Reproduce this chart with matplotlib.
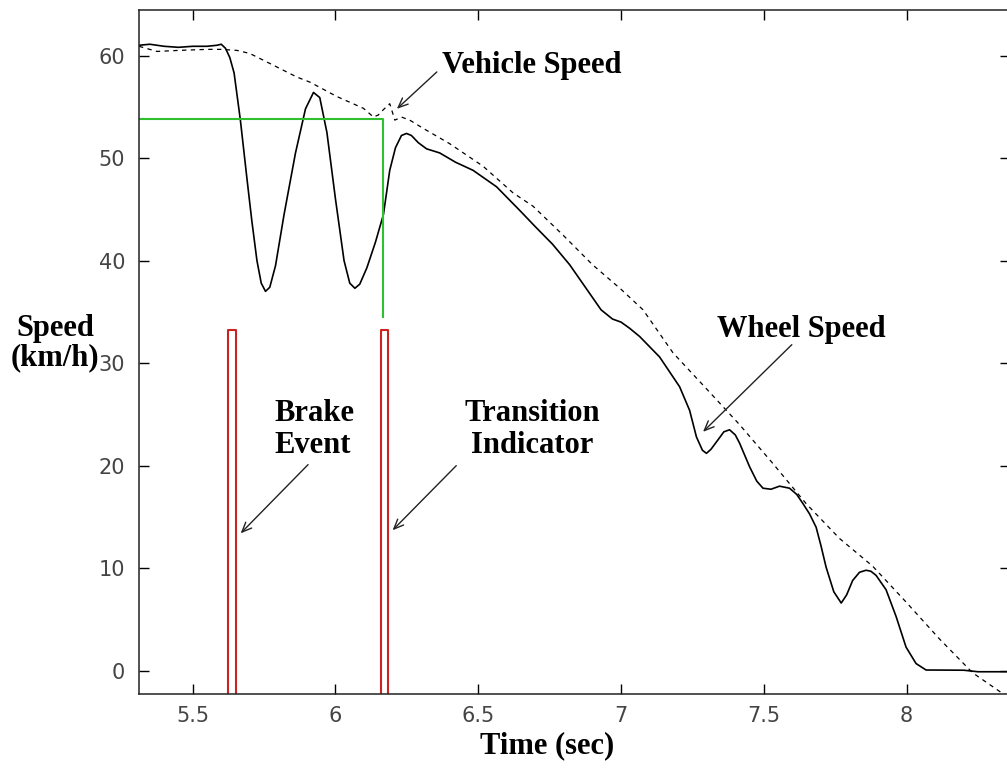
import matplotlib
matplotlib.use("Agg")
import matplotlib.pyplot as plt

# wheel speed (solid), km/h
wheel_t = [5.312, 5.35, 5.40, 5.45, 5.50, 5.55, 5.585, 5.60, 5.615, 5.63, 5.645, 5.667,
           5.69, 5.707, 5.725, 5.74, 5.755, 5.77, 5.79, 5.82, 5.86, 5.895, 5.923, 5.945,
           5.97, 6.00, 6.03, 6.05, 6.068, 6.085, 6.11, 6.14, 6.168, 6.19, 6.21, 6.231,
           6.249, 6.266, 6.29, 6.319, 6.365, 6.42, 6.482, 6.564, 6.645, 6.70, 6.76, 6.82,
           6.88, 6.93, 6.97, 7.00, 7.03, 7.065, 7.135, 7.205, 7.24, 7.264, 7.285, 7.299,
           7.315, 7.339, 7.36, 7.38, 7.40, 7.415, 7.45, 7.475, 7.497, 7.525, 7.555, 7.59,
           7.615, 7.637, 7.66, 7.683, 7.70, 7.718, 7.745, 7.771, 7.79, 7.811, 7.835, 7.858,
           7.875, 7.893, 7.928, 7.963, 7.998, 8.033, 8.068, 8.20, 8.25, 8.37]
wheel_v = [61.0, 61.1, 60.9, 60.8, 60.9, 60.9, 61.0, 61.1, 60.7, 59.8, 58.3, 53.7,
           48.0, 43.9, 40.0, 37.8, 37.0, 37.4, 39.5, 44.5, 50.5, 54.8, 56.4, 55.9,
           52.5, 46.0, 40.0, 37.8, 37.3, 37.7, 39.3, 41.8, 44.5, 48.8, 51.0, 52.2,
           52.4, 52.2, 51.5, 50.9, 50.5, 49.6, 48.8, 47.2, 44.9, 43.3, 41.6, 39.6,
           37.2, 35.2, 34.3, 34.0, 33.4, 32.6, 30.6, 27.7, 25.4, 22.8, 21.5, 21.2,
           21.6, 22.5, 23.3, 23.5, 23.0, 22.2, 19.9, 18.5, 17.8, 17.7, 18.0, 17.8,
           17.2, 16.3, 15.3, 14.0, 12.2, 10.1, 7.7, 6.6, 7.4, 8.8, 9.6, 9.8,
           9.7, 9.3, 7.9, 5.3, 2.3, 0.7, 0.07, 0.05, -0.1, -0.1]

# vehicle speed (dashed), km/h
vehicle_t = [5.312, 5.375, 5.45, 5.55, 5.60, 5.655, 5.70, 5.772, 5.865, 5.911, 6.005,
             6.098, 6.133, 6.15, 6.167, 6.19, 6.208, 6.231, 6.26, 6.307, 6.40, 6.517,
             6.622, 6.692, 6.80, 6.90, 7.00, 7.077, 7.182, 7.299, 7.415, 7.532, 7.648,
             7.765, 7.881, 7.998, 8.115, 8.231, 8.335, 8.37]
vehicle_v = [60.9, 60.4, 60.5, 60.6, 60.6, 60.5, 60.2, 59.2, 57.9, 57.4, 56.0,
             54.85, 54.0, 54.2, 54.7, 55.3, 53.7, 54.0, 53.7, 52.9, 51.4, 49.2,
             46.6, 45.3, 42.4, 39.6, 37.2, 35.2, 31.0, 27.5, 24.0, 20.2, 16.3,
             12.9, 10.2, 6.7, 3.1, -0.2, -2.2, -2.6]

# transition threshold (green)
thresh_t = [5.2, 6.168, 6.168]
thresh_v = [53.8, 53.8, 34.5]

# pulse markers (red)
brake_t = [5.625, 5.625, 5.651, 5.651]
transition_t = [6.159, 6.159, 6.184, 6.184]
pulse_v = [-5, 33.2, 33.2, -5]

xticks = [5.5, 6, 6.5, 7, 7.5, 8]
xticklabels = ["5.5", "6", "6.5", "7", "7.5", "8"]
yticks = [0, 10, 20, 30, 40, 50, 60]

serif = "Liberation Serif"

fig = plt.figure(figsize=(10.07, 7.76), dpi=100)
ax = fig.add_axes([139 / 1007, 82 / 776, 871 / 1007, 684 / 776])

ax.plot(vehicle_t, vehicle_v, color="black", lw=0.9, dashes=(3.5, 3.5))
ax.plot(wheel_t, wheel_v, color="black", lw=1.2)
ax.plot(thresh_t, thresh_v, color="#2ec02e", lw=1.5)
ax.plot(brake_t, pulse_v, color="#cc2222", lw=1.5)
ax.plot(transition_t, pulse_v, color="#cc2222", lw=1.5)

ax.set_xlim(5.312, 8.362)
ax.set_ylim(-2.27, 64.44)
ax.set_xticks(xticks)
ax.set_xticklabels(xticklabels)
ax.set_yticks(yticks)
ax.tick_params(direction="in", length=7, width=1, top=True, right=True,
               labelsize=15, labelcolor="#444444")
ax.tick_params(axis="x", pad=9)
ax.tick_params(axis="y", pad=10)
for sp in ax.spines.values():
    sp.set_linewidth(1.1)
    sp.set_color("#222222")
for lab in ax.get_xticklabels() + ax.get_yticklabels():
    lab.set_family("DejaVu Sans")

tfont = dict(family=serif, weight="bold", size=22, color="black")
arrow = dict(arrowstyle="->,head_length=0.7,head_width=0.3", lw=1.0, color="#222222",
             shrinkA=0, shrinkB=0)

ax.text(6.373, 59.0, "Vehicle Speed", ha="left", va="center", **tfont)
ax.annotate("", xy=(6.215, 54.8), xytext=(6.355, 58.4), arrowprops=arrow)

ax.text(7.336, 33.3, "Wheel Speed", ha="left", va="center", **tfont)
ax.annotate("", xy=(7.287, 23.3), xytext=(7.598, 31.8), arrowprops=arrow)

ax.text(5.788, 23.5, "Brake\nEvent", ha="left", va="center", linespacing=1.15, **tfont)
ax.annotate("", xy=(5.668, 13.4), xytext=(5.904, 20.1), arrowprops=arrow)

ax.text(6.689, 23.5, "Transition\nIndicator", ha="center", va="center",
        multialignment="center", linespacing=1.15, **tfont)
ax.annotate("", xy=(6.2, 13.7), xytext=(6.423, 20.0), arrowprops=arrow)

# axis labels
fig.text(55 / 1007, 1 - 343 / 776, "Speed\n(km/h)", ha="center", va="center",
         linespacing=1.0, **tfont)
fig.text(547 / 1007, 1 - 746 / 776, "Time (sec)", ha="center", va="center", **tfont)

fig.savefig("out.png", dpi=100)
